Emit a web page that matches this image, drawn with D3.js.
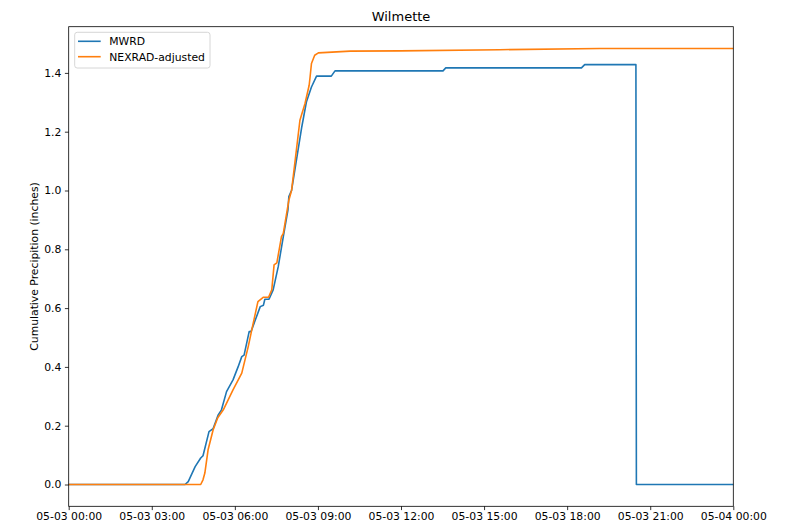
<!DOCTYPE html>
<html>
<head>
<meta charset="utf-8">
<script src="https://cdn.jsdelivr.net/npm/d3@7"></script>
<style>
  body { margin: 0; background: #fff; }
  svg text { font-family: "DejaVu Sans", sans-serif; }
</style>
</head>
<body>
<svg id="canvas" width="787" height="525"></svg>
<script>
// readings, times are 05-03 unless stated
var mwrdTimes = ["05-03 00:00", "05-03 04:12", "05-03 04:19", "05-03 04:34", "05-03 04:46", "05-03 04:51",
	"05-03 05:04", "05-03 05:13", "05-03 05:24", "05-03 05:31", "05-03 05:42", "05-03 05:56", "05-03 06:07",
	"05-03 06:15", "05-03 06:20", "05-03 06:31", "05-03 06:35", "05-03 06:55", "05-03 07:02", "05-03 07:05",
	"05-03 07:14", "05-03 07:23", "05-03 07:34", "05-03 07:45", "05-03 07:55", "05-03 07:57", "05-03 08:03",
	"05-03 08:25", "05-03 08:35", "05-03 08:46", "05-03 08:57", "05-03 09:29", "05-03 09:37", "05-03 13:31",
	"05-03 13:37", "05-03 18:31", "05-03 18:38", "05-03 20:29", "05-03 20:30", "05-04 00:00"];
var mwrdValues = [0, 0, 0.01, 0.061, 0.09, 0.098,
	0.18, 0.19, 0.237, 0.254, 0.316, 0.356, 0.40,
	0.435, 0.44, 0.52, 0.52, 0.605, 0.61, 0.63,
	0.63, 0.662, 0.741, 0.843, 0.933, 0.979, 1.001,
	1.216, 1.301, 1.352, 1.389, 1.389, 1.407, 1.407,
	1.417, 1.417, 1.428, 1.428, 0, 0];

var nexradTimes = ["05-03 00:00", "05-03 04:46", "05-03 04:51", "05-03 04:55", "05-03 05:02", "05-03 05:13",
	"05-03 05:23", "05-03 05:35", "05-03 05:56", "05-03 06:15", "05-03 06:29", "05-03 06:39", "05-03 06:50",
	"05-03 07:02", "05-03 07:13", "05-03 07:20", "05-03 07:25", "05-03 07:31", "05-03 07:41", "05-03 07:45",
	"05-03 07:57", "05-03 08:03", "05-03 08:21", "05-03 08:32", "05-03 08:41", "05-03 08:43", "05-03 08:46",
	"05-03 08:53", "05-03 09:01", "05-03 10:10", "05-03 11:58", "05-03 15:34", "05-03 19:11", "05-04 00:00"];
var nexradValues = [0, 0, 0.016, 0.039, 0.118, 0.186,
	0.227, 0.254, 0.322, 0.379, 0.469, 0.543, 0.622,
	0.637, 0.637, 0.662, 0.747, 0.754, 0.843, 0.854,
	0.967, 1.001, 1.239, 1.296, 1.358, 1.386, 1.432,
	1.46, 1.468, 1.474, 1.475, 1.479, 1.483, 1.483];

var seriesNames = ["MWRD", "NEXRAD-adjusted"];
var seriesColors = ["#1f77b4", "#ff7f0e"];
var yTicks = [0.0, 0.2, 0.4, 0.6, 0.8, 1.0, 1.2, 1.4];

var parseTime = d3.timeParse("%m-%d %H:%M");

function toPoints(times, values) {
	var points = [];
	for (var i = 0; i < times.length; i++)
		points.push([parseTime(times[i]), values[i]]);
	return points;
}

function draw() {
	var allSeries = [toPoints(mwrdTimes, mwrdValues), toPoints(nexradTimes, nexradValues)];

	var axLeft = 68.7, axRight = 733.3, axTop = 26.7, axBottom = 506.3;
	var svg = d3.select("#canvas");

	var x = d3.scaleTime()
		.domain([parseTime("05-03 00:00"), parseTime("05-04 00:00")])
		.range([axLeft, axRight]);

	var ymax = d3.max(nexradValues);
	var pad = ymax * 0.05;
	var y = d3.scaleLinear()
		.domain([-pad, ymax + pad])
		.range([axBottom, axTop]);

	// lines, clipped to the axes box
	svg.append("clipPath").attr("id", "clip")
		.append("rect").attr("x", axLeft).attr("y", axTop)
		.attr("width", axRight - axLeft).attr("height", axBottom - axTop);

	var line = d3.line()
		.x(function(d) { return x(d[0]); })
		.y(function(d) { return y(d[1]); });

	svg.append("g").attr("clip-path", "url(#clip)")
		.selectAll("path")
		.data(allSeries)
		.enter()
		.append("path")
		.attr("d", line)
		.attr("fill", "none")
		.attr("stroke", function(d, i) { return seriesColors[i]; })
		.attr("stroke-width", 1.6)
		.attr("stroke-linejoin", "round")
		.attr("stroke-linecap", "square");

	// axes
	var xAxis = d3.axisBottom(x)
		.ticks(d3.timeHour.every(3))
		.tickFormat(d3.timeFormat("%m-%d %H:%M"))
		.tickSizeOuter(0)
		.tickSize(3.8)
		.tickPadding(2.5);
	var gx = svg.append("g").attr("transform", "translate(0," + axBottom + ")").call(xAxis);

	var yAxis = d3.axisLeft(y)
		.tickValues(yTicks)
		.tickFormat(d3.format(".1f"))
		.tickSizeOuter(0)
		.tickSize(3.8)
		.tickPadding(3.5);
	var gy = svg.append("g").attr("transform", "translate(" + axLeft + ",0)").call(yAxis);

	[gx, gy].forEach(function(g) {
		g.select(".domain").remove();
		g.selectAll(".tick line").attr("stroke", "#000").attr("stroke-width", 0.8);
		g.selectAll(".tick text").attr("fill", "#000").style("font-size", "10.8px");
	});

	// spines
	svg.append("rect")
		.attr("x", axLeft).attr("y", axTop)
		.attr("width", axRight - axLeft).attr("height", axBottom - axTop)
		.attr("fill", "none").attr("stroke", "#000").attr("stroke-width", 0.8);

	// title and label
	svg.append("text")
		.attr("x", (axLeft + axRight) / 2).attr("y", 20.5)
		.attr("text-anchor", "middle")
		.style("font-size", "13px")
		.text("Wilmette");

	svg.append("text")
		.attr("transform", "translate(38," + (axTop + axBottom) / 2 + ") rotate(-90)")
		.attr("text-anchor", "middle")
		.style("font-size", "10.8px")
		.text("Cumulative Precipition (inches)");

	// legend
	var legend = svg.append("g");
	legend.append("rect")
		.attr("x", 74.7).attr("y", 32.3)
		.attr("width", 135.3).attr("height", 35.7)
		.attr("rx", 2.5)
		.attr("fill", "#fff").attr("fill-opacity", 0.8)
		.attr("stroke", "#ccc").attr("stroke-width", 0.8);

	var item = legend.selectAll("g.item")
		.data(seriesNames)
		.enter()
		.append("g")
		.attr("class", "item")
		.attr("transform", function(d, i) { return "translate(0," + (41.3 + i * 15.4) + ")"; });

	item.append("line")
		.attr("x1", 78).attr("x2", 100.7)
		.attr("stroke", function(d, i) { return seriesColors[i]; })
		.attr("stroke-width", 1.6);

	item.append("text")
		.attr("x", 109.3).attr("dy", "0.36em")
		.style("font-size", "10.8px")
		.text(function(d) { return d; });
}

draw();
</script>
</body>
</html>
